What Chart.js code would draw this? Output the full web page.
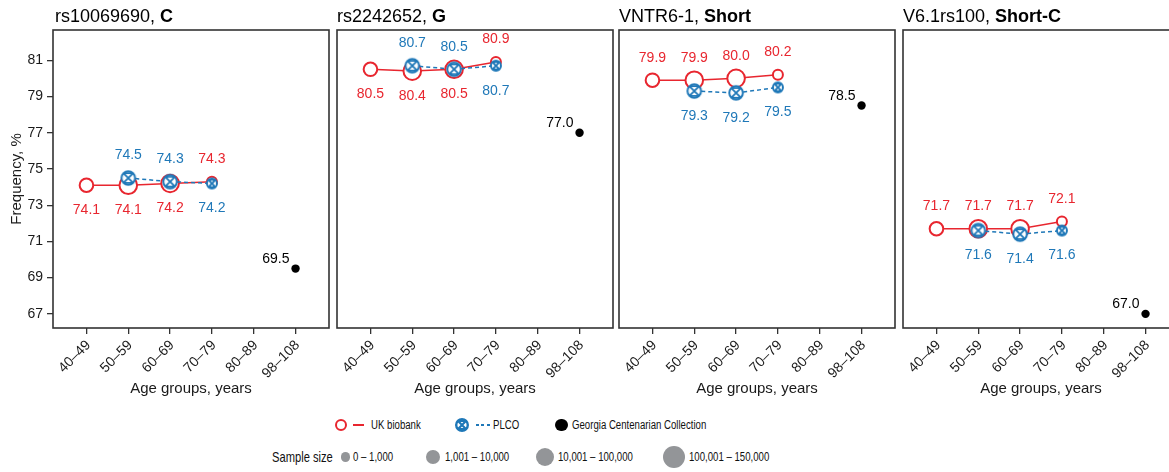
<!DOCTYPE html>
<html>
<head>
<meta charset="utf-8">
<script src="https://cdn.jsdelivr.net/npm/chart.js@4.4.0/dist/chart.umd.min.js"></script>
<style>
  html, body { margin: 0; padding: 0; background: #fff; width: 1169px; height: 472px; overflow: hidden; }
  #wrap { position: relative; width: 1169px; height: 472px; overflow: hidden; font-family: "Liberation Sans", Arial, sans-serif; }
  #wrap canvas.panel { position: absolute; top: 0; }
  .lg { position: absolute; transform: translateY(-50%) scaleX(0.77); transform-origin: 0 50%;
        white-space: nowrap; line-height: 1; font-family: "Liberation Sans", Arial, sans-serif; color: #111; }
  .dot { position: absolute; border-radius: 50%; box-sizing: border-box; }
</style>
</head>
<body>
<div id="wrap"></div>
<script>
// ---- data ----
const ageGroups = ['40–49', '50–59', '60–69', '70–79', '80–89', '98–108'];
const variantNames = ['rs10069690', 'rs2242652', 'VNTR6-1', 'V6.1rs100'];
const variantAlleles = ['C', 'G', 'Short', 'Short-C'];

// allele frequency, % (one row per variant, one column per age group 40–49 … 70–79)
const ukBiobank = [
  [74.1, 74.1, 74.2, 74.3],
  [80.5, 80.4, 80.5, 80.9],
  [79.9, 79.9, 80.0, 80.2],
  [71.7, 71.7, 71.7, 72.1]
];
const plco = [
  [null, 74.5, 74.3, 74.2],
  [null, 80.7, 80.5, 80.7],
  [null, 79.3, 79.2, 79.5],
  [null, 71.6, 71.4, 71.6]
];
// centenarians, age group 98–108
const georgia = [69.5, 77.0, 78.5, 67.0];

// sample-size classes
const sampleSizeClasses = ['0 – 1,000', '1,001 – 10,000', '10,001 – 100,000', '100,001 – 150,000'];
const ukBiobankSizeClass = [2, 3, 3, 1];
const plcoSizeClass = [null, 2, 2, 1];
const georgiaSizeClass = 0;

const yTicks = [67, 69, 71, 73, 75, 77, 79, 81];

// ---- styling ----
const RED = '#e8262f';
const BLUE = '#1f78b8';
const INK = '#1a1a1a';
const FRAME = '#333333';
const GREY = '#939598';
const FONT = '"Liberation Sans", Arial, sans-serif';
const markerRadius = [4.2, 5.0, 6.8, 8.8];     // drawn radius per sample-size class
const legendRadius = [4.7, 6.9, 9.0, 10.9];

// frame of each panel (plot area left/right) and canvas extent
const frames = [[53, 329], [337, 613], [619, 895], [903, 1179]];
const canvases = [[0, 333], [333, 616], [616, 899], [899, 1189]];
const AREA_TOP = 30, AREA_BOTTOM = 328, CANVAS_H = 400;

// circle with a crossed hourglass inside, used for PLCO points
function plcoGlyph(r, lw) {
  const s = Math.ceil(2 * r + 6) | 0;
  const size = s % 2 ? s + 1 : s;
  const c = document.createElement('canvas');
  c.width = c.height = size;
  const g = c.getContext('2d');
  const m = size / 2;
  g.strokeStyle = BLUE;
  g.lineWidth = lw;
  g.fillStyle = '#fff';
  g.beginPath(); g.arc(m, m, r, 0, Math.PI * 2); g.fill(); g.stroke();
  const k = r * 0.72;
  g.lineWidth = lw * 0.9;
  g.beginPath();
  g.moveTo(m - k, m - k); g.lineTo(m + k, m + k);
  g.moveTo(m + k, m - k); g.lineTo(m - k, m + k);
  g.moveTo(m - k, m - k); g.lineTo(m + k, m - k);
  g.moveTo(m - k, m + k); g.lineTo(m + k, m + k);
  g.stroke();
  return c;
}
const plcoGlyphs = markerRadius.map(r => plcoGlyph(r, 2));

// frame + title + value labels
const panelDecor = {
  id: 'panelDecor',
  afterDatasetsDraw(chart) {
    const p = chart.options.plugins.panelDecor;
    const i = p.index;
    const ctx = chart.ctx;
    const xs = chart.scales.x, ys = chart.scales.y;
    const uk = ukBiobank[i], pl = plco[i];
    const pairIdx = pl.findIndex(v => v !== null);
    ctx.save();
    ctx.font = '14px ' + FONT;
    ctx.textAlign = 'center';
    ctx.textBaseline = 'middle';
    const ABOVE = 22.5, BELOW = 25;
    uk.forEach((v, j) => {
      const ref = pl[j] !== null ? j : pairIdx;
      const redAbove = uk[ref] > pl[ref];
      const x = xs.getPixelForValue(j), y = ys.getPixelForValue(v);
      ctx.fillStyle = RED;
      ctx.fillText(v.toFixed(1), x, redAbove ? y - ABOVE : y + BELOW);
      if (pl[j] !== null) {
        const yb = ys.getPixelForValue(pl[j]);
        ctx.fillStyle = BLUE;
        ctx.fillText(pl[j].toFixed(1), x, redAbove ? yb + BELOW : yb - ABOVE);
      }
    });
    const gx = xs.getPixelForValue(5), gy = ys.getPixelForValue(georgia[i]);
    ctx.fillStyle = '#000';
    ctx.textAlign = 'right';
    ctx.fillText(georgia[i].toFixed(1), gx - 6, gy - 9.5);
    ctx.restore();
  },
  afterDraw(chart) {
    const i = chart.options.plugins.panelDecor.index;
    const a = chart.chartArea;
    const ctx = chart.ctx;
    ctx.save();
    ctx.strokeStyle = FRAME;
    ctx.lineWidth = 1.6;
    ctx.strokeRect(a.left, a.top, a.right - a.left, a.bottom - a.top);
    // title: variant name, then the allele in bold
    ctx.fillStyle = '#000';
    ctx.textBaseline = 'alphabetic';
    ctx.textAlign = 'left';
    ctx.font = '18px ' + FONT;
    const head = variantNames[i] + ', ';
    const x0 = a.left + (i === 0 ? 2 : 0);
    ctx.fillText(head, x0, 22);
    const w = ctx.measureText(head).width;
    ctx.font = 'bold 18px ' + FONT;
    ctx.fillText(variantAlleles[i], x0 + w, 22);
    ctx.restore();
  }
};

const wrap = document.getElementById('wrap');

variantNames.forEach((name, i) => {
  const [cx0, cx1] = canvases[i];
  const [fl, fr] = frames[i];
  const cv = document.createElement('canvas');
  cv.className = 'panel';
  cv.width = cx1 - cx0;
  cv.height = CANVAS_H;
  cv.style.left = cx0 + 'px';
  cv.style.width = (cx1 - cx0) + 'px';
  cv.style.height = CANVAS_H + 'px';
  wrap.appendChild(cv);

  const ukPts = ukBiobank[i].map((v, j) => ({ x: j, y: v }));
  const plPts = plco[i].map((v, j) => v === null ? null : { x: j, y: v }).filter(Boolean);
  const plSizes = plcoSizeClass.filter(c => c !== null);
  const showY = i === 0;

  new Chart(cv, {
    type: 'line',
    data: {
      datasets: [
        {
          label: 'Georgia Centenarian Collection',
          data: [{ x: 5, y: georgia[i] }],
          showLine: false,
          pointStyle: 'circle',
          pointRadius: markerRadius[georgiaSizeClass],
          pointBackgroundColor: '#000',
          pointBorderColor: '#000',
          pointBorderWidth: 0,
          order: 0
        },
        {
          label: 'PLCO',
          data: plPts,
          borderColor: BLUE,
          borderWidth: 1.5,
          borderDash: [4, 3],
          pointStyle: plSizes.map(c => plcoGlyphs[c]),
          pointRadius: plSizes.map(c => markerRadius[c]),
          order: 1
        },
        {
          label: 'UK biobank',
          data: ukPts,
          borderColor: RED,
          borderWidth: 1.5,
          pointStyle: 'circle',
          pointRadius: ukBiobankSizeClass.map(c => markerRadius[c]),
          pointBackgroundColor: '#fff',
          pointBorderColor: RED,
          pointBorderWidth: 2,
          order: 2
        }
      ]
    },
    options: {
      responsive: false,
      animation: false,
      events: [],
      layout: {
        autoPadding: false,
        padding: { left: showY ? 0 : fl - cx0, right: cx1 - fr, top: AREA_TOP, bottom: 0 }
      },
      plugins: {
        legend: { display: false },
        tooltip: { enabled: false },
        panelDecor: { index: i }
      },
      scales: {
        x: {
          type: 'linear',
          min: -0.8,
          max: 5.8,
          afterBuildTicks(s) { s.ticks = ageGroups.map((_, j) => ({ value: j })); },
          afterFit(s) {
            s.height = CANVAS_H - AREA_BOTTOM;
            s.paddingLeft = 0; s.paddingRight = 0;
          },
          border: { display: false },
          grid: { drawOnChartArea: false, drawTicks: true, tickLength: 6, color: FRAME, lineWidth: 1.3 },
          ticks: {
            autoSkip: false,
            minRotation: 45,
            maxRotation: 45,
            padding: 3,
            labelOffset: 2,
            color: INK,
            font: { family: FONT, size: 14 },
            callback: v => ageGroups[Math.round(v)]
          },
          title: {
            display: true,
            text: 'Age groups, years',
            color: INK,
            font: { family: FONT, size: 15 },
            padding: { top: 0, bottom: 2 }
          }
        },
        y: {
          type: 'linear',
          display: showY,
          min: 66.22,
          max: 82.67,
          afterBuildTicks(s) { s.ticks = yTicks.map(v => ({ value: v })); },
          afterFit(s) {
            s.width = showY ? fl - cx0 : 0;
            s.paddingTop = 0; s.paddingBottom = 0;
          },
          border: { display: false },
          grid: { drawOnChartArea: false, drawTicks: true, tickLength: 6, color: FRAME, lineWidth: 1.3 },
          ticks: {
            padding: 4,
            color: INK,
            font: { family: FONT, size: 14 },
            callback: v => String(v)
          },
          title: {
            display: true,
            text: 'Frequency, %',
            color: INK,
            font: { family: FONT, size: 15 },
            padding: { top: 7.5, bottom: 0 }
          }
        }
      }
    },
    plugins: [panelDecor]
  });
});

// ---- legend ----
function addDot(cx, cy, r, css) {
  const d = document.createElement('div');
  d.className = 'dot';
  d.style.left = (cx - r) + 'px';
  d.style.top = (cy - r) + 'px';
  d.style.width = d.style.height = (2 * r) + 'px';
  Object.assign(d.style, css);
  wrap.appendChild(d);
  return d;
}
function addText(x, cy, text, size) {
  const s = document.createElement('span');
  s.className = 'lg';
  s.style.left = x + 'px';
  s.style.top = cy + 'px';
  s.style.fontSize = size + 'px';
  s.textContent = text;
  wrap.appendChild(s);
}
function addBar(x, cy, w, h, bg) {
  const b = document.createElement('div');
  b.style.position = 'absolute';
  b.style.left = x + 'px';
  b.style.top = (cy - h / 2) + 'px';
  b.style.width = w + 'px';
  b.style.height = h + 'px';
  b.style.background = bg;
  wrap.appendChild(b);
}

const ROW1 = 425, ROW2 = 457;
addDot(341, ROW1, 6.4, { border: '2.6px solid ' + RED, background: '#fff' });
addBar(353, ROW1, 11, 2.6, RED);
addText(371, ROW1, 'UK biobank', 12.5);

const lgGlyph = plcoGlyph(5.8, 2.4);
lgGlyph.style.position = 'absolute';
lgGlyph.style.left = (462 - lgGlyph.width / 2) + 'px';
lgGlyph.style.top = (ROW1 - lgGlyph.height / 2) + 'px';
wrap.appendChild(lgGlyph);
addBar(476, ROW1, 14, 2.6, 'repeating-linear-gradient(90deg,' + BLUE + ' 0 3px, transparent 3px 5.5px)');
addText(493, ROW1, 'PLCO', 12.5);

addDot(561.7, ROW1, 6.4, { background: '#000' });
addText(572, ROW1, 'Georgia Centenarian Collection', 12.5);

addText(272, ROW2, 'Sample size', 14.5);
const lgDotX = [345.5, 433.3, 545, 674];
const lgTextX = [353, 444.5, 557.5, 689];
sampleSizeClasses.forEach((t, k) => {
  addDot(lgDotX[k], ROW2, legendRadius[k], { background: GREY });
  addText(lgTextX[k], ROW2, t, 12.5);
});
</script>
</body>
</html>
